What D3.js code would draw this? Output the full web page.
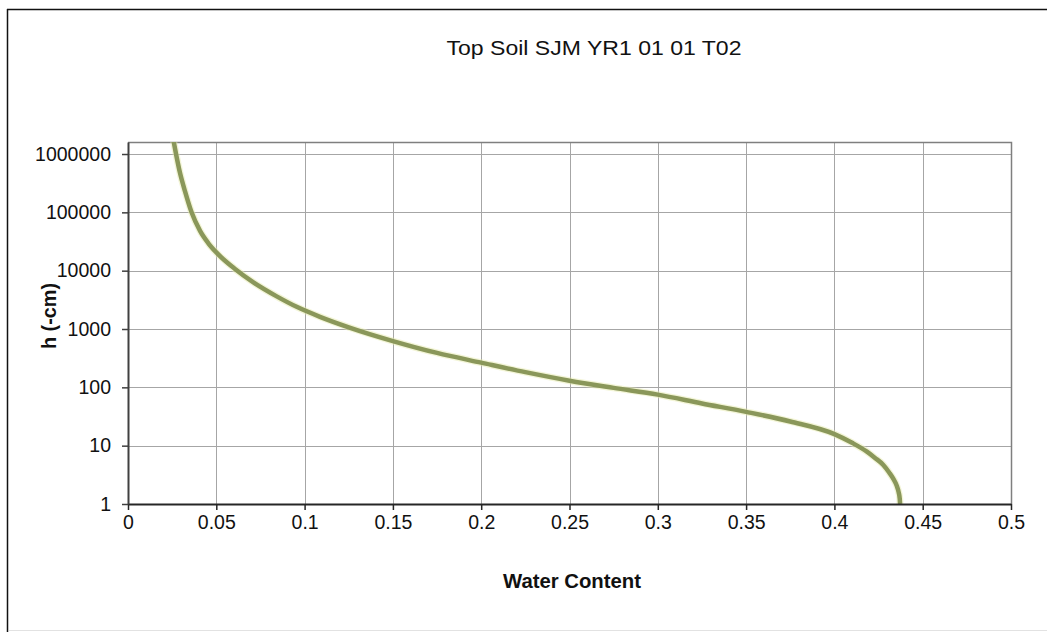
<!DOCTYPE html>
<html>
<head>
<meta charset="utf-8">
<script src="https://cdn.jsdelivr.net/npm/d3@7"></script>
<style>
  html, body { margin: 0; padding: 0; background: #fff; }
  svg { display: block; font-family: Arial, "Liberation Sans", sans-serif; }
</style>
</head>
<body>
<svg id="chart" width="1047" height="632"></svg>
<script>
// ---- data ----
const chartTitle = "Top Soil SJM YR1 01 01 T02";
const xTitle = "Water Content";
const yTitle = "h (-cm)";
const thetaValues = [0.0257, 0.0272, 0.0294, 0.0323, 0.0360, 0.0408, 0.0455, 0.0511, 0.0606, 0.0710, 0.0842, 0.0955, 0.1087, 0.125, 0.150, 0.175, 0.200, 0.225, 0.250, 0.275, 0.300, 0.325, 0.350, 0.375, 0.400, 0.410, 0.4184, 0.4230, 0.4277, 0.4310, 0.4334, 0.4352, 0.4364, 0.4370, 0.4372];
const hValues     = [1740000, 1000000, 480000, 229000, 100000, 48000, 29500, 19050, 10700, 6300, 3630, 2400, 1620, 1070, 622, 389, 265, 182, 130, 98, 75, 53, 38, 26, 15.8, 11.2, 7.9, 6.17, 4.67, 3.47, 2.69, 2.09, 1.58, 1.23, 1];
const xTickValues = [0, 0.05, 0.1, 0.15, 0.2, 0.25, 0.3, 0.35, 0.4, 0.45, 0.5];
const xTickLabels = ["0", "0.05", "0.1", "0.15", "0.2", "0.25", "0.3", "0.35", "0.4", "0.45", "0.5"];
const yTickValues = [1, 10, 100, 1000, 10000, 100000, 1000000];
const yTickLabels = ["1", "10", "100", "1000", "10000", "100000", "1000000"];

const points = thetaValues.map((t, i) => ({ x: t, y: hValues[i] }));

const svg = d3.select("#chart");
const W = 1047, H = 632;
const plot = { left: 128, right: 1011, top: 142, bottom: 504 };

// outer frame
svg.append("line").attr("x1", 7.5).attr("x2", 7.5).attr("y1", 9).attr("y2", 632)
  .attr("stroke", "#111").attr("stroke-width", 1.5);
svg.append("line").attr("x1", 7).attr("x2", W).attr("y1", 9.5).attr("y2", 9.5)
  .attr("stroke", "#111").attr("stroke-width", 1.5);
svg.append("line").attr("x1", 9).attr("x2", W).attr("y1", 630.5).attr("y2", 630.5)
  .attr("stroke", "#e2e2e2").attr("stroke-width", 1);

const x = d3.scaleLinear().domain([0, 0.5]).range([plot.left, plot.right]);
const y = d3.scaleLog().domain([1, Math.pow(10, 6.206)]).range([plot.bottom, plot.top]);

// gridlines
const grid = svg.append("g");
grid.selectAll("line.v").data(xTickValues.slice(1)).enter().append("line")
  .attr("x1", d => Math.round(x(d)) + 0.5).attr("x2", d => Math.round(x(d)) + 0.5)
  .attr("y1", plot.top).attr("y2", plot.bottom)
  .attr("stroke", "#a6a6a6").attr("stroke-width", 1);
grid.selectAll("line.h").data(yTickValues.slice(1)).enter().append("line")
  .attr("x1", plot.left).attr("x2", plot.right)
  .attr("y1", d => Math.round(y(d)) + 0.5).attr("y2", d => Math.round(y(d)) + 0.5)
  .attr("stroke", "#a6a6a6").attr("stroke-width", 1);

// plot border (top & right)
svg.append("path")
  .attr("d", `M${plot.left},${plot.top + 0.5}H${plot.right + 0.5}V${plot.bottom}`)
  .attr("fill", "none").attr("stroke", "#7f7f7f").attr("stroke-width", 1.5);

// curve
svg.append("defs").append("clipPath").attr("id", "clip")
  .append("rect").attr("x", plot.left).attr("y", plot.top)
  .attr("width", plot.right - plot.left).attr("height", plot.bottom - plot.top);

const line = d3.line().x(d => x(d.x)).y(d => y(d.y)).curve(d3.curveMonotoneX);
svg.append("path").datum(points)
  .attr("clip-path", "url(#clip)")
  .attr("d", line)
  .attr("fill", "none").attr("stroke", "#e8ecb0").attr("stroke-width", 7).attr("stroke-opacity", 0.5)
  .attr("stroke-linecap", "butt");
svg.append("path").datum(points)
  .attr("clip-path", "url(#clip)")
  .attr("d", line)
  .attr("fill", "none").attr("stroke", "#8a975a").attr("stroke-width", 4.5)
  .attr("stroke-linecap", "butt");

// axes
const xAxis = d3.axisBottom(x).tickValues(xTickValues)
  .tickFormat((d, i) => xTickLabels[i]).tickSizeInner(6).tickSizeOuter(0).tickPadding(5);
const gx = svg.append("g").attr("transform", `translate(0,${plot.bottom})`).call(xAxis);
gx.select(".domain").attr("stroke", "#262626").attr("stroke-width", 2);
gx.selectAll(".tick line").attr("stroke", "#262626").attr("stroke-width", 1.5);
gx.selectAll(".tick text").attr("font-size", "19.5px").attr("fill", "#111")
  .attr("font-family", "Arial, 'Liberation Sans', sans-serif");

const yAxis = d3.axisLeft(y).tickValues(yTickValues)
  .tickFormat((d, i) => yTickLabels[i]).tickSizeInner(6).tickSizeOuter(0).tickPadding(11);
const gy = svg.append("g").attr("transform", `translate(${plot.left},0)`).call(yAxis);
gy.select(".domain").attr("stroke", "#404040").attr("stroke-width", 2);
gy.selectAll(".tick line").attr("stroke", "#404040").attr("stroke-width", 1.5);
gy.selectAll(".tick text").attr("font-size", "19.5px").attr("fill", "#111")
  .attr("font-family", "Arial, 'Liberation Sans', sans-serif");

// titles
svg.append("text").attr("x", 594).attr("y", 55).attr("text-anchor", "middle")
  .attr("font-size", "21px").attr("fill", "#111")
  .attr("textLength", 295).attr("lengthAdjust", "spacingAndGlyphs").text(chartTitle);
svg.append("text").attr("x", 572).attr("y", 588).attr("text-anchor", "middle")
  .attr("font-size", "20px").attr("font-weight", "bold").attr("fill", "#111")
  .attr("textLength", 138).attr("lengthAdjust", "spacingAndGlyphs").text(xTitle);
svg.append("text").attr("transform", "translate(56,316) rotate(-90)").attr("text-anchor", "middle")
  .attr("font-size", "20px").attr("font-weight", "bold").attr("fill", "#111")
  .attr("textLength", 66).attr("lengthAdjust", "spacingAndGlyphs").text(yTitle);
</script>
</body>
</html>
